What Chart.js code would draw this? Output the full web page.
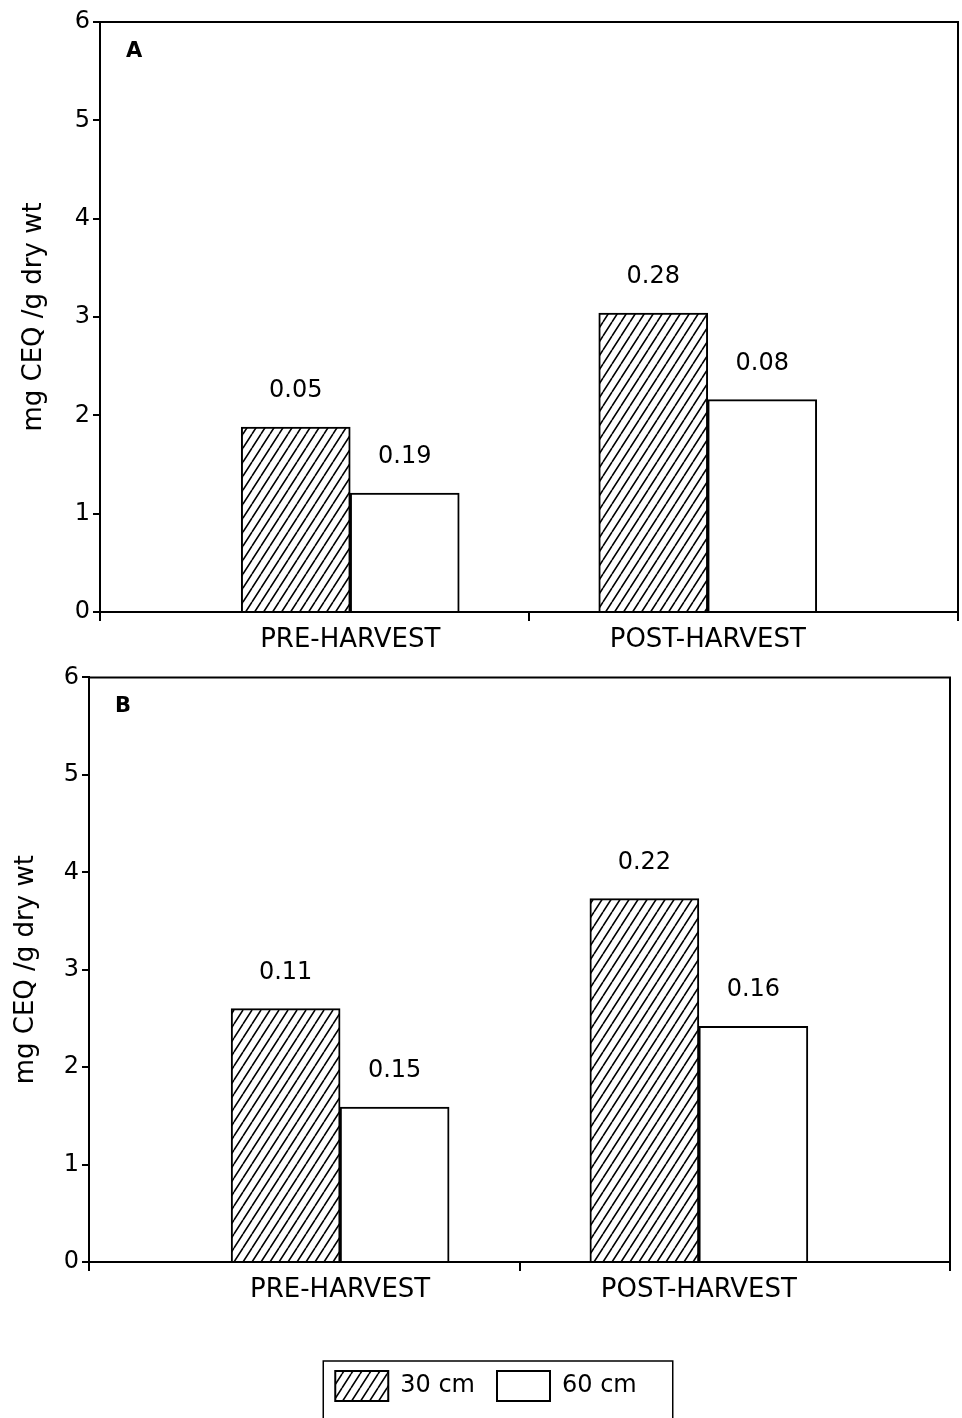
<!DOCTYPE html>
<html>
<head>
<meta charset="utf-8">
<script src="https://cdn.jsdelivr.net/npm/chart.js@4.4.0/dist/chart.umd.min.js"></script>
<style>
  body { margin: 0; background: #fff; }
  #wrap { position: relative; width: 962px; height: 1418px; overflow: hidden; background: #fff; }
  canvas { position: absolute; left: 0; }
  #chartA { top: 0; }
  #chartB { top: 660px; }
</style>
</head>
<body>
<div id="wrap">
  <canvas id="chartA" width="962" height="660"></canvas>
  <canvas id="chartB" width="962" height="758"></canvas>
</div>
<script>
const categories = ['PRE-HARVEST', 'POST-HARVEST'];
const seriesNames = ['30 cm', '60 cm'];
const yTicks = [0, 1, 2, 3, 4, 5, 6];
const yTitle = 'mg CEQ /g dry wt';

// panel A
const panelA30 = [1.88, 3.04];
const panelA60 = [1.21, 2.16];
const panelA30Notes = ['0.05', '0.28'];
const panelA60Notes = ['0.19', '0.08'];

// panel B
const panelB30 = [2.60, 3.73];
const panelB60 = [1.59, 2.42];
const panelB30Notes = ['0.11', '0.22'];
const panelB60Notes = ['0.15', '0.16'];

Chart.defaults.font.family = '"DejaVu Sans", sans-serif';
Chart.defaults.color = '#000';

function makeHatch() {
  const c = document.createElement('canvas');
  c.width = 9;
  c.height = 14;
  const g = c.getContext('2d');
  g.fillStyle = '#fff';
  g.fillRect(0, 0, 9, 14);
  g.strokeStyle = '#000';
  g.lineWidth = 1.6;
  g.beginPath();
  [-9, 0, 9].forEach((dx) => {
    g.moveTo(dx, 14);
    g.lineTo(dx + 9, 0);
  });
  g.stroke();
  return g.createPattern(c, 'repeat');
}

const hatch = makeHatch();

// values written above each bar
const noteLabels = {
  id: 'noteLabels',
  afterDatasetsDraw(chart) {
    const ctx = chart.ctx;
    ctx.save();
    ctx.font = '24px "DejaVu Sans"';
    ctx.fillStyle = '#000';
    ctx.textAlign = 'center';
    ctx.textBaseline = 'middle';
    chart.data.datasets.forEach((ds, i) => {
      chart.getDatasetMeta(i).data.forEach((bar, j) => {
        ctx.fillText(ds.notes[j], bar.x, bar.y - 36);
      });
    });
    ctx.restore();
  },
};

// top/right frame and panel letter
const frame = {
  id: 'frame',
  afterDraw(chart, args, opts) {
    const { ctx, chartArea: a } = chart;
    ctx.save();
    ctx.strokeStyle = '#000';
    ctx.lineWidth = 2;
    ctx.beginPath();
    ctx.moveTo(a.left, a.top);
    ctx.lineTo(a.right, a.top);
    ctx.lineTo(a.right, a.bottom);
    ctx.stroke();
    ctx.font = 'bold 21px "DejaVu Sans"';
    ctx.fillStyle = '#000';
    ctx.textBaseline = 'alphabetic';
    ctx.fillText(opts.letter, a.left + 26, a.top + 35);
    ctx.restore();
  },
};

// nudge the legend and draw a box round it
const legendFrame = {
  id: 'legendFrame',
  afterLayout(chart, args, opts) {
    const lg = chart.legend;
    if (!lg) return;
    lg.left += opts.shift;
    lg.right += opts.shift;
  },
  afterDraw(chart) {
    const lg = chart.legend;
    if (!lg || !lg.lineWidths) return;
    const ctx = chart.ctx;
    const pad = lg.options.labels.padding;
    const lw = lg.lineWidths[0];
    const x0 = (lg.left + pad + lg.right - lw) / 2;
    const x1 = x0 + lw - pad;
    ctx.save();
    ctx.strokeStyle = '#000';
    ctx.lineWidth = 1.5;
    ctx.strokeRect(x0 - 12, lg.top + pad - 10, x1 + 36 - (x0 - 12), chart.height);
    ctx.restore();
  },
};

function buildChart(id, opts) {
  const toPoints = (vals) => vals.map((v, i) => ({ x: i, y: v }));
  return new Chart(document.getElementById(id), {
    type: 'bar',
    data: {
      datasets: [
        {
          label: seriesNames[0],
          data: toPoints(opts.s30),
          notes: opts.n30,
          backgroundColor: hatch,
          borderColor: '#000',
          borderWidth: 2,
        },
        {
          label: seriesNames[1],
          data: toPoints(opts.s60),
          notes: opts.n60,
          backgroundColor: '#fff',
          borderColor: '#000',
          borderWidth: 2,
        },
      ],
    },
    options: {
      responsive: false,
      animation: false,
      devicePixelRatio: 1,
      events: [],
      barThickness: 109,
      layout: { padding: opts.padding },
      scales: {
        x: {
          type: 'linear',
          min: -0.7,
          max: 1.7,
          offset: false,
          afterBuildTicks: (s) => {
            s.ticks = [-0.7, 0, 0.5, 1, 1.7].map((v) => ({ value: v }));
          },
          afterFit: (s) => { s.height = opts.xHeight; },
          ticks: {
            autoSkip: false,
            maxRotation: 0,
            padding: 4,
            font: { size: 26 },
            callback: (v) => (Number.isInteger(v) ? categories[v] : ''),
          },
          grid: {
            offset: false,
            drawOnChartArea: false,
            tickLength: 9,
            lineWidth: 2,
            color: (c) => (c.tick && Number.isInteger(c.tick.value) ? 'rgba(0,0,0,0)' : '#000'),
          },
          border: { color: '#000', width: 2 },
        },
        y: {
          min: 0,
          max: 6,
          afterBuildTicks: (s) => {
            s.ticks = yTicks.map((v) => ({ value: v }));
          },
          afterFit: (s) => { s.width = opts.yWidth; },
          ticks: { padding: 3, font: { size: 24 } },
          grid: { drawOnChartArea: false, tickLength: 7, lineWidth: 2, color: '#000' },
          border: { color: '#000', width: 2 },
          title: {
            display: true,
            text: yTitle,
            font: { size: 26 },
            padding: { top: opts.titlePad, bottom: 0 },
          },
        },
      },
      plugins: {
        tooltip: { enabled: false },
        legend: {
          display: opts.legend,
          position: 'bottom',
          labels: {
            boxWidth: 53,
            boxHeight: 30,
            padding: 22,
            color: '#000',
            font: { size: 24 },
          },
        },
        frame: { letter: opts.letter },
        legendFrame: { shift: 11 },
      },
    },
    plugins: opts.legend ? [noteLabels, frame, legendFrame] : [noteLabels, frame],
  });
}

buildChart('chartA', {
  s30: panelA30, s60: panelA60, n30: panelA30Notes, n60: panelA60Notes,
  letter: 'A', legend: false,
  padding: { top: 22, right: 2, bottom: 0, left: 0 },
  xHeight: 48, yWidth: 100, titlePad: 19,
});

buildChart('chartB', {
  s30: panelB30, s60: panelB60, n30: panelB30Notes, n60: panelB60Notes,
  letter: 'B', legend: true,
  padding: { top: 16, right: 12, bottom: 7, left: 0 },
  xHeight: 87, yWidth: 89, titlePad: 11,
});
</script>
</body>
</html>
